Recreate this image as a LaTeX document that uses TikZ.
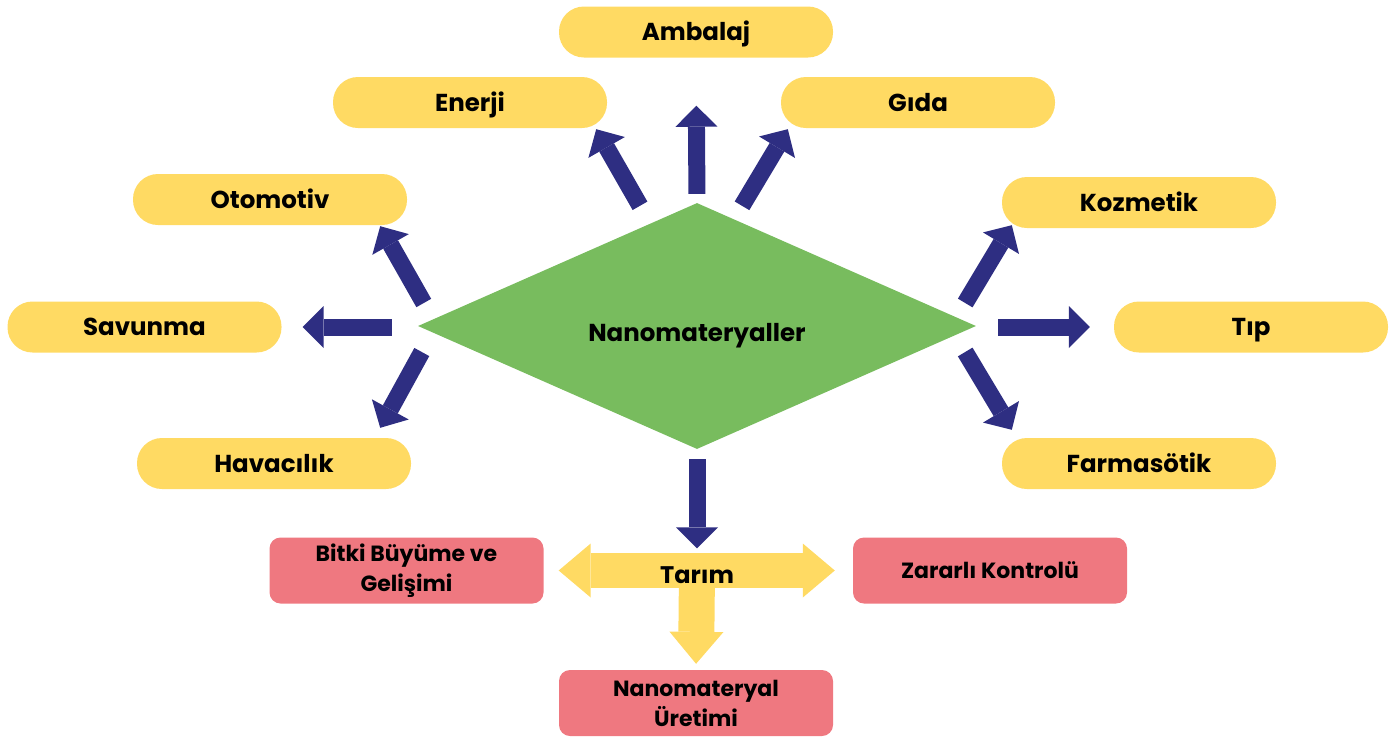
\documentclass[tikz,border=0pt]{standalone}
\usepackage{fontspec}
\setmainfont{Poppins}
\usetikzlibrary{arrows.meta, calc, positioning, shapes.geometric}
\definecolor{pillyellow}{RGB}{255,218,99}
\definecolor{leafgreen}{RGB}{120,188,94}
\definecolor{spokeblue}{RGB}{46,46,130}
\definecolor{subpink}{RGB}{239,120,128}

\begin{document}
\begin{tikzpicture}[
    x=1pt, y=-1pt,
    pill/.style={fill=pillyellow, rounded corners=25pt, minimum width=274pt, minimum height=51pt, inner sep=0pt, text height=19pt, text depth=2pt, font=\fontsize{24.5}{30}\selectfont\bfseries},
    sub/.style={fill=subpink, rounded corners=11pt, minimum width=274pt, minimum height=66pt, inner sep=0pt, align=center, font=\fontsize{22}{30}\selectfont\bfseries},
    hub/.style={diamond, aspect=2.27, fill=leafgreen, minimum width=558pt, minimum height=246pt, inner sep=0pt, text height=30pt, text depth=0pt, font=\fontsize{24.5}{30}\selectfont\bfseries},
    spoke/.style={-{Triangle[length=21pt, width=42pt, line width=0pt]}, line width=17pt, draw=spokeblue},
    feed/.style={{Triangle[length=32pt, width=54pt, line width=0pt]}-{Triangle[length=32pt, width=54pt, line width=0pt]}, line width=35pt, draw=pillyellow},
    feeddown/.style={-{Triangle[length=32pt, width=54pt, line width=0pt]}, line width=36pt, draw=pillyellow},
]
\useasboundingbox (0,0) rectangle (1395,740);

% Centre and application fields
\node[hub]  (nano)       at (697,326)   {Nanomateryaller};
\node[pill] (ambalaj)    at (696,32)    {Ambalaj};
\node[pill] (enerji)     at (470,102.5) {Enerji};
\node[pill] (gida)       at (918,102.5) {Gıda};
\node[pill] (otomotiv)   at (270,199.5) {Otomotiv};
\node[pill] (savunma)    at (144.5,327) {Savunma};
\node[pill] (havacilik)  at (274,463.5) {Havacılık};
\node[pill] (kozmetik)   at (1139,202.5) {Kozmetik};
\node[pill] (tip)        at (1251,327)  {Tıp};
\node[pill] (farmasotik) at (1139,463.5) {Farmasötik};

% Agriculture branch
\node[sub] (bitki)      at (406.5,570.5) {Bitki Büyüme ve\\Gelişimi};
\node[sub] (zararli)    at (990,570.5)   {Zararlı Kontrolü};
\node[sub] (nanouretim) at (696,703)     {Nanomateryal\\Üretimi};

% Yellow arrows under the label
\coordinate (tarimmid) at (697,571);
\draw[feeddown, shorten >=6pt] (tarimmid) -- (nanouretim.north);
\draw[feed, shorten <=15pt, shorten >=18pt] (bitki.east) -- (zararli.west);
\node[minimum height=35pt, inner sep=0pt, text height=24pt, text depth=0pt,
      font=\fontsize{24}{30}\selectfont\bfseries] (tarim) at (tarimmid) {Tarım};

% Blue arrows out of the diamond
\draw[spoke, shorten <=9pt, shorten >=48pt] (nano.north) -- (ambalaj.south);
\draw[spoke] ($(nano.north)+(-57,3)$) -- ($(enerji.south east)+(-11,1)$);
\draw[spoke] ($(nano.north)+(45,3)$)  -- ($(gida.south west)+(7,1)$);
\draw[spoke] ($(nano.west)+(6,-23)$)  -- ($(otomotiv.south east)+(-27,1)$);
\draw[spoke] ($(nano.west)+(-26,1)$)  -- ($(savunma.east)+(21,0)$);
\draw[spoke] ($(nano.west)+(4,26)$)   -- ($(havacilik.north east)+(-31,-10)$);
\draw[spoke] ($(nano.east)+(-11,-23)$) -- ($(kozmetik.south west)+(10,-3)$);
\draw[spoke] ($(nano.east)+(22,1)$)   -- ($(tip.west)+(-24,0)$);
\draw[spoke] ($(nano.east)+(-11,26)$) -- ($(farmasotik.north west)+(10,-8)$);
\draw[spoke, shorten <=10pt, shorten >=5pt] (nano.south) -- (tarim.north);

\end{tikzpicture}
\end{document}
